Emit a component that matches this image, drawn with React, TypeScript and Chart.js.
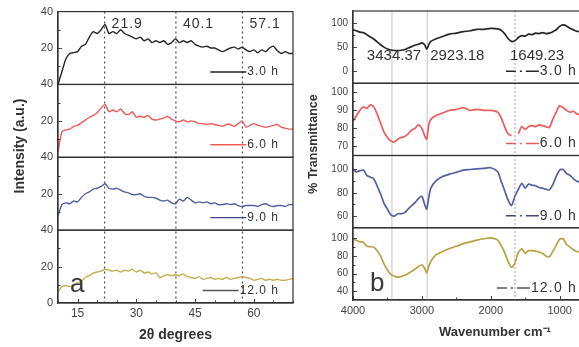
import React, { useEffect, useRef } from 'react';
import { Chart, registerables } from 'chart.js';

Chart.register(...registerables);

const FONT = '"Liberation Sans", Arial, Helvetica, sans-serif';

// ---------- Panel a: XRD ----------
const twoTheta = [
  10, 11, 12, 13, 14, 15, 16, 17, 18, 19, 20, 21, 22, 23, 24, 25, 26, 27, 28, 29,
  30, 31, 32, 33, 34, 35, 36, 37, 38, 39, 40, 41, 42, 43, 44, 45, 46, 47, 48, 49,
  50, 51, 52, 53, 54, 55, 56, 57, 58, 59, 60, 61, 62, 63, 64, 65, 66, 67, 68, 69, 70,
];
const xrd3h = [
  0, 7, 14, 17, 17.5, 18, 21, 22, 26, 29, 28, 30, 33, 28, 29, 28, 30, 28, 27, 26,
  25, 26, 24, 25, 23, 24, 23, 24, 22, 23, 25, 23, 24, 23, 24, 22, 21, 20.5, 21, 20,
  20, 19, 18, 19, 20, 20.5, 19.5, 20.5, 19, 18, 19, 17.5, 19, 18, 20, 21, 18.5, 17, 18, 17, 17,
];
const xrd6h = [
  3, 14, 15, 15.5, 17, 17.5, 19, 20.5, 22, 23, 24.5, 27, 29, 25, 26, 25, 26.5, 24, 23.5, 25,
  22, 22.5, 22, 23, 21, 20.5, 21, 21.5, 22.5, 21, 20, 19.5, 20.5, 19.5, 20, 19.5, 18.5, 18.5, 18, 18.5,
  18, 17.5, 17, 18, 18, 17, 18.5, 20, 16.5, 17.5, 18.5, 17.5, 17, 16.5, 17, 17.5, 18, 16.5, 16, 15.5, 15.5,
];
const xrd9h = [
  8, 14, 15, 14.5, 16, 15.5, 18, 20, 21, 22.5, 23, 24, 25.5, 23, 22.5, 23, 22, 21, 20.5, 19.5,
  19.5, 20, 18.5, 18, 18, 17.5, 16.5, 16, 16.5, 15, 14.5, 17, 16, 18, 16.5, 15, 15.5, 15, 15.5, 14.5,
  15, 14, 14, 14.5, 14, 14.5, 13.5, 13, 13.5, 13.5, 13.5, 13, 14, 14.5, 13.5, 13, 13.5, 13.5, 13, 14, 14,
];
const xrd12h = [
  6, 9, 9.5, 9, 10, 11, 12, 14, 15, 16.5, 17, 17.5, 18.5, 18, 17.5, 18, 17, 18, 17.5, 18.5,
  17, 18, 16.5, 17, 16, 16.5, 14, 15, 15.5, 15, 15.5, 15, 16, 14.5, 14, 13.5, 14.5, 13, 13.5, 14,
  13, 13.5, 13, 14, 13, 13.5, 14, 14.5, 14, 13.5, 12.5, 13, 13.5, 12.5, 13, 12.5, 13, 12.5, 12.5, 13, 13.5,
];
const xrdPeaks = [21.9, 40.1, 57.1];
const xrdXTicks = [10, 15, 20, 25, 30, 35, 40, 45, 50, 55, 60, 65, 70];
const xrdXLabels = [15, 30, 45, 60];

// ---------- Panel b: FTIR ----------
const wavenumber = [
  4000, 3950, 3900, 3850, 3800, 3750, 3700, 3650, 3600, 3550,
  3500, 3450, 3400, 3350, 3300, 3250, 3200, 3150, 3100, 3050,
  3000, 2960, 2930, 2900, 2870, 2800, 2700, 2600, 2500, 2400,
  2300, 2200, 2100, 2000, 1900, 1850, 1800, 1750, 1700, 1650,
  1600, 1550, 1500, 1450, 1400, 1350, 1300, 1250, 1200, 1150,
  1100, 1050, 1000, 950, 900, 850, 800, 750, 700, 650, 600,
];
const ir3h = [
  86, 84, 81, 80, 76, 71, 67, 61, 55, 50,
  46, 44, 43, 43, 43.5, 45, 48, 51, 54, 56,
  59, 55, 46, 55, 62, 67, 72, 77, 79, 82,
  84, 87, 87, 89, 88, 85, 78, 68, 62, 63,
  70, 74, 73, 77, 76, 79, 78, 80, 78, 79,
  82, 86, 93, 96, 94, 89, 86, 83, 82, 81, 80,
];
const ir6h = [
  84, 87, 90, 92, 91, 93, 92, 88, 83, 78,
  75, 73, 72.5, 74, 75, 75.5, 77, 79, 80, 82,
  80, 76, 74, 82, 85, 87, 88.5, 90, 90.5, 91.5,
  90, 90.5, 90, 90, 89, 86, 81, 77, 76, null,
  77, 81, 79.5, 81, 81.5, 81, 82, 81.5, 81, 80.5,
  85, 89, 92.5, 91.5, 90, 89, 89.5, 88, 87.5, 87, 86.5,
];
const ir9h = [
  100, 98, 99, 99.5, 95, 93.5, 92, 86, 79, 71,
  66, 61, 60, 62, 62, 63, 66, 69, 71.5, 75,
  77, 70, 66, 76, 84, 90, 94, 96, 97.5, 99.5,
  100, 100.5, 101, 101.5, 98, 90, 82, 74, 69, 77,
  83, 88, 84, 87.5, 86.5, 86, 84.5, 84, 83, 82.5,
  87, 94, 99.5, 100, 96.5, 95, 92, 90, 89, 88, 87.5,
];
const ir12h = [
  99.5, 97.5, 96, 95.5, 91, 90.5, 90, 86, 80, 71,
  64, 59, 57, 56, 56.5, 58, 60, 62.5, 65, 68,
  70, 66, 61, 68, 74, 81, 85, 88.5, 91, 94,
  96, 98, 99.5, 100.5, 98, 92, 84, 74, 67, 72,
  84, 88, 83, 86, 86, 85.5, 84.5, 83, 80, 79,
  85, 92, 99, 99.5, 93, 90, 87, 85, 84.5, 84, 83.5,
];
const irPeaks = [3434.37, 2923.18, 1649.23];
const irXTicks = [4000, 3500, 3000, 2500, 2000, 1500, 1000, 500];
const irXLabels = [4000, 3000, 2000, 1000];

const seriesLabels = ['3.0 h', '6.0 h', '9.0 h', '12.0 h'];
const xrdColors = ['#262626', '#ef5b5b', '#52619f', '#c6ae50'];
const irColors = ['#262626', '#ef5b5b', '#52619f', '#b9a144'];
const legendColors = ['#262626', '#ef5b5b', '#3d4a80', '#555555'];

const ids = ['yA', 'yB', 'yC', 'yD'];

function yAxis(stack: string, min: number, max: number, step: number, show: (v: number) => boolean, width: number, size: number) {
  return {
    type: 'linear',
    position: 'left',
    stack,
    stackWeight: 1,
    min,
    max,
    ticks: {
      stepSize: step,
      autoSkip: false,
      maxTicksLimit: 100,
      color: '#444',
      padding: 5,
      font: { family: FONT, size },
      callback: (v: number) => (show(v) ? String(v) : ''),
    },
    grid: { drawOnChartArea: false, drawTicks: false },
    border: { color: '#333', width: 1.2 },
    afterFit: (s: any) => { s.width = width; },
  };
}

function xAxis(min: number, max: number, reverse: boolean, tickVals: number[], labelVals: number[], size: number, height: number, pad: number, title: any) {
  return {
    type: 'linear',
    position: 'bottom',
    reverse,
    min,
    max,
    ticks: {
      autoSkip: false,
      maxRotation: 0,
      minRotation: 0,
      color: '#444',
      padding: pad,
      font: { family: FONT, size },
      callback: (v: number) => (labelVals.includes(v) ? String(v) : ''),
    },
    afterBuildTicks: (s: any) => {
      s.ticks = tickVals.filter((v) => v >= min && v <= max).map((v) => ({ value: v }));
    },
    grid: { drawOnChartArea: false, drawTicks: false },
    border: { color: '#333', width: 1.2 },
    title,
    afterFit: (s: any) => { s.height = height; },
  };
}

// inward tick marks, drawn on the chart area edges (long for labelled ticks, short otherwise)
function drawInwardTicks(chart: any, xLabels: number[], yShow: ((v: number) => boolean)[]) {
  const { ctx, chartArea: ca, scales: sc } = chart;
  ctx.save();
  ctx.strokeStyle = '#444';
  ctx.lineWidth = 1;
  ctx.beginPath();
  sc.x.ticks.forEach((t: any) => {
    const x = Math.round(sc.x.getPixelForValue(t.value)) + 0.5;
    const len = xLabels.includes(t.value) ? 4 : 2.5;
    ctx.moveTo(x, ca.bottom);
    ctx.lineTo(x, ca.bottom - len);
  });
  ids.forEach((id, i) => {
    const s = sc[id];
    s.ticks.forEach((t: any) => {
      const y = Math.round(s.getPixelForValue(t.value)) + 0.5;
      if (y <= s.top + 1 || y >= s.bottom - 1) return;
      const len = yShow[i](t.value) ? 4 : 2.5;
      ctx.moveTo(ca.left, y);
      ctx.lineTo(ca.left + len, y);
    });
  });
  ctx.stroke();
  ctx.restore();
}

function buildXrd(): any {
  const series = [xrd3h, xrd6h, xrd9h, xrd12h];
  const datasets = series.map((s, i) => ({
    label: seriesLabels[i],
    data: twoTheta.map((x, j) => ({ x, y: s[j] })),
    yAxisID: ids[i],
    borderColor: xrdColors[i],
    borderWidth: 1.4,
    pointRadius: 0,
    tension: 0.2,
    fill: false,
  }));
  const scales: any = {
    x: xAxis(10, 70, false, xrdXTicks, xrdXLabels, 12, 44, 3, {
      display: true,
      text: '2θ degrees',
      color: '#333',
      font: { family: FONT, size: 14, weight: 'bold' },
      padding: { top: 0, bottom: 3 },
    }),
  };
  const yShow: ((v: number) => boolean)[] = [];
  for (let i = 0; i < 4; i++) {
    const bottom = i === 3;
    yShow.push((v: number) => v === 20 || v === 40 || (bottom && v === 0));
  }
  for (let i = 3; i >= 0; i--) {
    scales[ids[i]] = yAxis('xrd', 0, 40, 10, yShow[i], 58, 11);
  }
  const deco = {
    id: 'xrdDeco',
    beforeDatasetsDraw(chart: any) {
      const { ctx, chartArea: ca, scales: sc } = chart;
      ctx.save();
      ctx.strokeStyle = '#555';
      ctx.lineWidth = 1.3;
      ctx.setLineDash([2, 3]);
      xrdPeaks.forEach((p) => {
        const x = sc.x.getPixelForValue(p);
        ctx.beginPath();
        ctx.moveTo(x, ca.top);
        ctx.lineTo(x, ca.bottom);
        ctx.stroke();
      });
      ctx.restore();
    },
    afterDatasetsDraw(chart: any) {
      const { ctx, chartArea: ca, scales: sc } = chart;
      drawInwardTicks(chart, xrdXLabels, yShow);
      ctx.save();
      ctx.strokeStyle = '#333';
      ctx.lineWidth = 1.2;
      ids.forEach((id) => {
        const s = sc[id];
        ctx.strokeRect(ca.left, s.top, ca.right - ca.left, s.bottom - s.top);
      });
      ctx.fillStyle = '#333';
      ctx.font = `14px ${FONT}`;
      ctx.textBaseline = 'middle';
      ctx.textAlign = 'left';
      ctx.letterSpacing = '1px';
      xrdPeaks.forEach((p) => ctx.fillText(p.toFixed(1), sc.x.getPixelForValue(p) + 7, ca.top + 13));
      ctx.font = `12px ${FONT}`;
      ctx.textAlign = 'right';
      ids.forEach((id, i) => {
        const s = sc[id];
        const y = s.bottom - 12.5;
        const tx = ca.right - 14;
        ctx.fillStyle = '#333';
        ctx.fillText(seriesLabels[i], tx, y);
        const w = ctx.measureText(seriesLabels[i]).width;
        ctx.strokeStyle = legendColors[i];
        ctx.lineWidth = 1.4;
        ctx.beginPath();
        ctx.moveTo(tx - w - 37, y);
        ctx.lineTo(tx - w - 1, y);
        ctx.stroke();
      });
      ctx.letterSpacing = '0px';
      ctx.font = `26px ${FONT}`;
      ctx.textAlign = 'left';
      ctx.textBaseline = 'alphabetic';
      ctx.fillStyle = '#3a3a3a';
      ctx.fillText('a', 70, 291.5);
      ctx.translate(20, 146);
      ctx.rotate(-Math.PI / 2);
      ctx.font = `bold 14px ${FONT}`;
      ctx.textAlign = 'center';
      ctx.textBaseline = 'middle';
      ctx.fillStyle = '#333';
      ctx.fillText('Intensity (a.u.)', 0, 0);
      ctx.restore();
    },
  };
  return {
    type: 'line',
    data: { datasets },
    options: {
      responsive: false,
      animation: false,
      devicePixelRatio: 1,
      layout: { padding: { top: 10, right: 7, left: 0, bottom: 0 } },
      plugins: { legend: { display: false }, tooltip: { enabled: false } },
      scales,
    },
    plugins: [deco],
  };
}

function buildIr(): any {
  const series = [ir3h, ir6h, ir9h, ir12h];
  const datasets = series.map((s, i) => ({
    label: seriesLabels[i],
    data: wavenumber.map((x, j) => ({ x, y: s[j] })),
    yAxisID: ids[i],
    borderColor: irColors[i],
    borderWidth: 1.7,
    pointRadius: 0,
    tension: 0.25,
    spanGaps: false,
    fill: false,
  }));
  const scales: any = {
    x: xAxis(400, 4000, true, irXTicks, irXLabels, 11, 47, 4, { display: false }),
  };
  const yDefs = [
    { min: -25, max: 125, step: 25, show: (v: number) => v % 50 === 0 },
    { min: 65, max: 105, step: 5, show: (v: number) => v % 10 === 0 },
    { min: 50, max: 112, step: 10, show: (v: number) => v % 20 === 0 },
    { min: 30, max: 112, step: 10, show: (v: number) => v % 20 === 0 },
  ];
  const yShow = yDefs.map((d) => d.show);
  for (let i = 3; i >= 0; i--) {
    const d = yDefs[i];
    scales[ids[i]] = yAxis('ir', d.min, d.max, d.step, d.show, 63, 10);
  }
  const deco = {
    id: 'irDeco',
    beforeDatasetsDraw(chart: any) {
      const { ctx, chartArea: ca, scales: sc } = chart;
      ctx.save();
      irPeaks.forEach((p, i) => {
        const x = sc.x.getPixelForValue(p);
        ctx.strokeStyle = i === 2 ? '#a8a8a8' : '#c4c4c4';
        ctx.lineWidth = 1;
        ctx.setLineDash(i === 2 ? [2, 2] : []);
        ctx.beginPath();
        ctx.moveTo(x, ca.top);
        ctx.lineTo(x, ca.bottom);
        ctx.stroke();
      });
      ctx.restore();
    },
    afterDatasetsDraw(chart: any) {
      const { ctx, chartArea: ca, scales: sc } = chart;
      drawInwardTicks(chart, irXLabels, yShow);
      ctx.save();
      ctx.strokeStyle = '#333';
      ctx.lineWidth = 1.2;
      ids.forEach((id) => {
        const s = sc[id];
        ctx.strokeRect(ca.left, s.top, ca.right - ca.left, s.bottom - s.top);
      });
      ctx.fillStyle = '#333';
      ctx.font = `15px ${FONT}`;
      ctx.textBaseline = 'middle';
      const offs = [2, 3, -5];
      const aligns = ['center', 'left', 'left'];
      irPeaks.forEach((p, i) => {
        ctx.textAlign = aligns[i];
        ctx.fillText(p.toFixed(2), sc.x.getPixelForValue(p) + offs[i], ca.top + 45);
      });
      ctx.font = `14px ${FONT}`;
      ctx.letterSpacing = '1.2px';
      ctx.textAlign = 'right';
      ids.forEach((id, i) => {
        const s = sc[id];
        const y = s.bottom - 12;
        const tx = 287;
        ctx.fillStyle = '#333';
        ctx.fillText(seriesLabels[i], tx, y);
        const w = ctx.measureText(seriesLabels[i]).width;
        const end = tx - w - 1;
        ctx.strokeStyle = legendColors[i];
        ctx.lineWidth = 1.4;
        ctx.beginPath();
        ctx.moveTo(end - 33, y);
        ctx.lineTo(end - 23, y);
        ctx.moveTo(end - 19, y);
        ctx.lineTo(end - 17, y);
        ctx.moveTo(end - 13, y);
        ctx.lineTo(end, y);
        ctx.stroke();
      });
      ctx.letterSpacing = '0px';
      ctx.font = `26px ${FONT}`;
      ctx.textAlign = 'left';
      ctx.textBaseline = 'alphabetic';
      ctx.fillStyle = '#3a3a3a';
      ctx.fillText('b', 80, 291);
      ctx.font = `bold 13px ${FONT}`;
      ctx.textAlign = 'center';
      ctx.textBaseline = 'middle';
      ctx.fillStyle = '#333';
      ctx.fillText('Wavenumber cm⁻¹', 205, 332);
      ctx.translate(24, 144);
      ctx.rotate(-Math.PI / 2);
      ctx.font = `bold 12.5px ${FONT}`;
      ctx.fillText('% Transmittance', 0, 0);
      ctx.restore();
    },
  };
  return {
    type: 'line',
    data: { datasets },
    options: {
      responsive: false,
      animation: false,
      devicePixelRatio: 1,
      layout: { padding: { top: 10, right: 9, left: 0, bottom: 0 } },
      plugins: { legend: { display: false }, tooltip: { enabled: false } },
      scales,
    },
    plugins: [deco],
  };
}

function Panel({ build, left, width }: { build: () => any; left: number; width: number }) {
  const ref = useRef<HTMLCanvasElement>(null);
  useEffect(() => {
    const chart = new Chart(ref.current as HTMLCanvasElement, build());
    return () => chart.destroy();
  }, []);
  return (
    <canvas
      ref={ref}
      width={width}
      height={347}
      style={{ position: 'absolute', left, top: 0, width, height: 347 }}
    />
  );
}

export default function App() {
  return (
    <div
      style={{
        position: 'absolute',
        left: 0,
        top: 0,
        width: 579,
        height: 347,
        overflow: 'hidden',
        background: '#fff',
      }}
    >
      <Panel build={buildXrd} left={0} width={300} />
      <Panel build={buildIr} left={290} width={320} />
    </div>
  );
}
